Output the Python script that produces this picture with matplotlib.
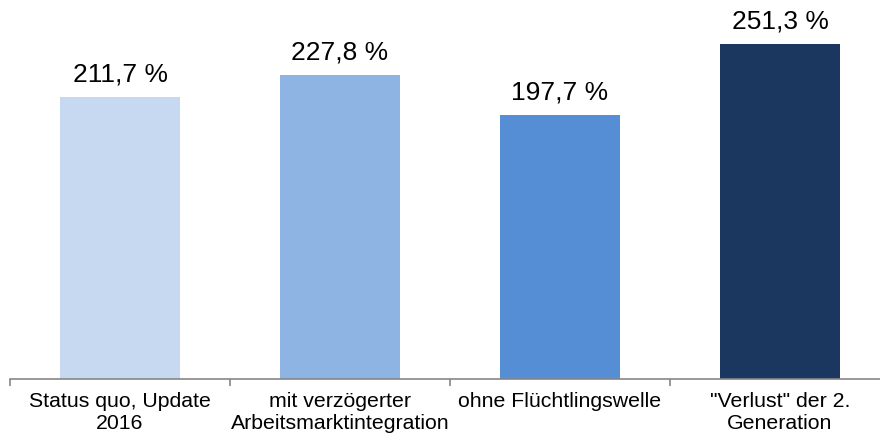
import matplotlib
matplotlib.use('Agg')
import matplotlib.pyplot as plt
import numpy as np

# Data
categories = ['Status quo, Update\n2016', 'mit verzögerter\nArbeitsmarktintegration',
              'ohne Flüchtlingswelle', '"Verlust" der 2.\nGeneration']
values = [211.7, 227.8, 197.7, 251.3]
colors = ['#C6D9F1', '#8EB4E3', '#558ED5', '#1C375F']

plt.rcParams['font.family'] = ['Liberation Sans', 'DejaVu Sans']

fig = plt.figure(figsize=(8.8, 4.39), dpi=100)
ax = fig.add_axes([10 / 880, 59 / 439, 870 / 880, 380 / 439])

x = np.arange(len(values))
bars = ax.bar(x, values, width=0.545, color=colors)

# value labels
for bar, v in zip(bars, values):
    ax.text(bar.get_x() + bar.get_width() / 2, v + 12.5,
            f'{v:.1f} %'.replace('.', ','), ha='center', va='baseline', fontsize=19)

ax.set_xlim(-0.5, 3.4545)
ax.set_ylim(0, 285)

for side in ['top', 'right', 'left']:
    ax.spines[side].set_visible(False)
ax.spines['bottom'].set_color('#868686')
ax.spines['bottom'].set_linewidth(1.2)
ax.set_yticks([])

ax.set_xticks(x)
ax.set_xticklabels(categories, fontsize=15.3, linespacing=1.15)
ax.tick_params(axis='x', which='major', length=0, pad=9)
ax.set_xticks(np.arange(-0.5, 3.5, 1.0), minor=True)
ax.tick_params(axis='x', which='minor', length=5, width=1.2, color='#868686', direction='out')

fig.savefig('out.png', dpi=100)
